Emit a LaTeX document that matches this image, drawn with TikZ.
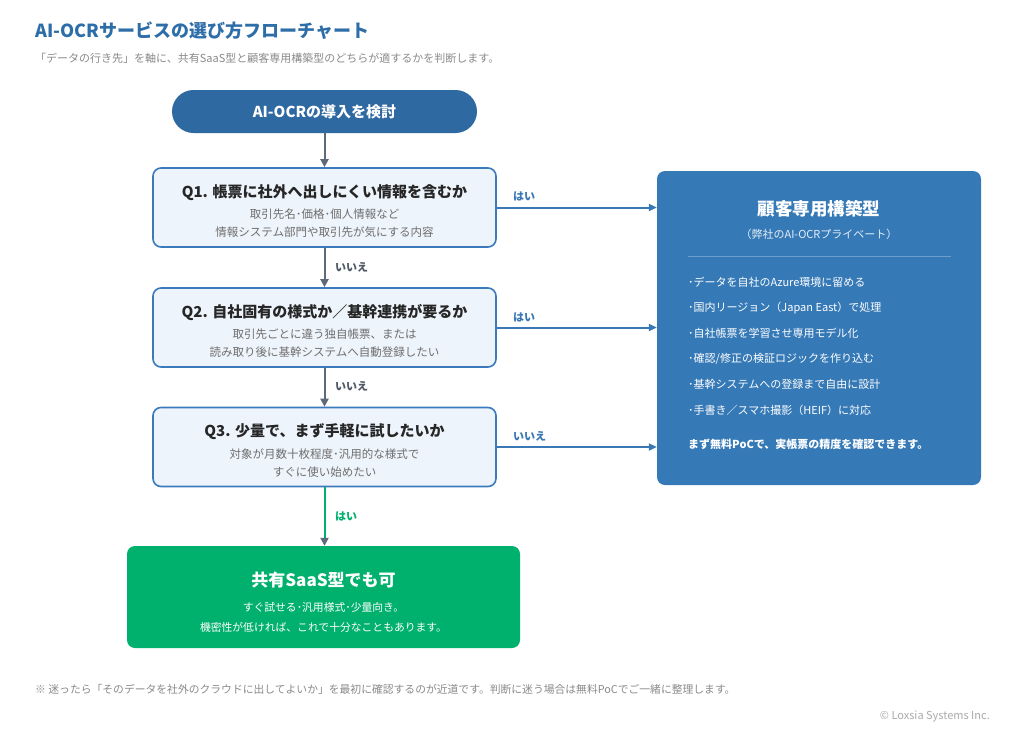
\documentclass[tikz,border=0pt]{standalone}
\usepackage{fontspec}
\setmainfont{Noto Sans CJK JP}
\usetikzlibrary{arrows.meta}
\definecolor{titleblue}{HTML}{2D6DA8}
\definecolor{startblue}{HTML}{2E69A1}
\definecolor{qborder}{HTML}{3A7ABD}
\definecolor{qfill}{HTML}{EEF4FB}
\definecolor{privblue}{HTML}{3579B7}
\definecolor{divider}{HTML}{6C9ED0}
\definecolor{saasgreen}{HTML}{00B06D}
\definecolor{arrowgray}{HTML}{5E6A78}
\definecolor{darktext}{HTML}{262626}
\definecolor{subgray}{HTML}{6E6E6E}
\definecolor{lightgray}{HTML}{8A8A8A}
\definecolor{copygray}{HTML}{AAAAAA}
\definecolor{nolabel}{HTML}{505A66}
\definecolor{yesblue}{HTML}{3A78B5}
\begin{document}
\begin{tikzpicture}[x=1pt,y=-1pt,
  fs/.style={font=\fontsize{#1}{#1}\selectfont},
  fsb/.style={font=\fontsize{#1}{#1}\selectfont\bfseries},
  qbox/.style={draw=qborder, line width=1.6pt, fill=qfill, rounded corners=8pt, minimum width=343pt, minimum height=79pt, inner sep=0pt},
  qtitle/.style={fsb=15, text=darktext, inner sep=0pt},
  qsub/.style={fs=11.5, text=subgray, inner sep=0pt},
  garrow/.style={draw=arrowgray, line width=2pt, -{Triangle[length=8pt,width=8pt]}},
  sarrow/.style={draw=saasgreen, line width=2pt, -{Triangle[length=8pt,width=8pt,color=arrowgray]}},
  barrow/.style={draw=yesblue, line width=2pt, -{Triangle[length=8pt,width=7pt]}},
  nolbl/.style={fsb=11, text=nolabel, anchor=west, inner sep=0pt},
  yeslbl/.style={fsb=11, text=yesblue, anchor=west, inner sep=0pt},
  bullet/.style={fs=11, text=white, anchor=west, inner sep=0pt}]
\useasboundingbox (0,0) rectangle (1024,734);
\fill[white] (0,0) rectangle (1024,734);

% title
\node[fsb=18, text=titleblue, anchor=west, inner sep=0pt] (title) at (35,31) {AI-OCRサービスの選び方フローチャート};
\node[fs=11, text=lightgray, anchor=west, inner sep=0pt] (subtitle) at (35,58) {「データの行き先」を軸に、共有SaaS型と顧客専用構築型のどちらが適するかを判断します。};

% start
\node[fill=startblue, rounded corners=21.5pt, minimum width=305pt, minimum height=43pt, inner sep=0pt, fsb=15, text=white] (start) at (324.5,111.5) {AI-OCRの導入を検討};

% Q1
\node[qbox] (q1) at (324.5,207.5) {};
\node[qtitle] (q1t) at (324.5,193) {Q1. 帳票に社外へ出しにくい情報を含むか};
\node[qsub] (q1s1) at (324.5,214) {取引先名･価格･個人情報など};
\node[qsub] (q1s2) at (324.5,232) {情報システム部門や取引先が気にする内容};

% Q2
\node[qbox] (q2) at (324.5,327.5) {};
\node[qtitle] (q2t) at (324.5,312) {Q2. 自社固有の様式か／基幹連携が要るか};
\node[qsub] (q2s1) at (324.5,334) {取引先ごとに違う独自帳票、または};
\node[qsub] (q2s2) at (324.5,352) {読み取り後に基幹システムへ自動登録したい};

% Q3
\node[qbox] (q3) at (324.5,447) {};
\node[qtitle] (q3t) at (324.5,432) {Q3. 少量で、まず手軽に試したいか};
\node[qsub] (q3s1) at (324.5,454) {対象が月数十枚程度･汎用的な様式で};
\node[qsub] (q3s2) at (324.5,472) {すぐに使い始めたい};

% SaaS
\node[fill=saasgreen, rounded corners=8pt, minimum width=393pt, minimum height=102pt, inner sep=0pt] (saas) at (323.5,597) {};
\node[fsb=17, text=white, inner sep=0pt] (saast) at (323.5,580) {共有SaaS型でも可};
\node[fs=10.8, text=white, inner sep=0pt] (saass1) at (323.5,607) {すぐ試せる･汎用様式･少量向き。};
\node[fs=10.8, text=white, inner sep=0pt] (saass2) at (323.5,627) {機密性が低ければ、これで十分なこともあります。};

% private
\node[fill=privblue, rounded corners=8pt, minimum width=324pt, minimum height=314pt, inner sep=0pt] (priv) at (819,328) {};
\node[fsb=17.5, text=white, inner sep=0pt] (privt) at (819,209) {顧客専用構築型};
\node[fs=11, text=white!88!privblue, inner sep=0pt] (privs) at (819,234) {（弊社のAI-OCRプライベート）};
\coordinate (dl) at (688,256);
\coordinate (dr) at (951,256);
\draw[divider, line width=1pt] (dl) -- (dr);
\node[bullet] (b1) at (688,282) {･データを自社のAzure環境に留める};
\node[bullet] (b2) at (688,308) {･国内リージョン（Japan East）で処理};
\node[bullet] (b3) at (688,333) {･自社帳票を学習させ専用モデル化};
\node[bullet] (b4) at (688,359) {･確認/修正の検証ロジックを作り込む};
\node[bullet] (b5) at (688,384) {･基幹システムへの登録まで自由に設計};
\node[bullet] (b6) at (688,410) {･手書き／スマホ撮影（HEIF）に対応};
\node[fsb=11, text=white, anchor=west, inner sep=0pt] (b7) at (688,444) {まず無料PoCで、実帳票の精度を確認できます。};

% vertical arrows
\draw[garrow] (start.south) -- (q1.north);
\draw[garrow] (q1.south) -- (q2.north);
\node[nolbl] (l1) at (335,267) {いいえ};
\draw[garrow] (q2.south) -- (q3.north);
\node[nolbl] (l2) at (335,386) {いいえ};
\coordinate (gtip) at (q3.south |- saas.north);
\draw[sarrow] (q3.south) -- (gtip);
\node[fsb=11, text=saasgreen, anchor=west, inner sep=0pt] (l3) at (335,516) {はい};

% horizontal arrows
\draw[barrow] (q1.east) -- (q1.east -| priv.west);
\node[yeslbl] (h1) at (513,196) {はい};
\draw[barrow] (q2.east) -- (q2.east -| priv.west);
\node[yeslbl] (h2) at (513,317) {はい};
\draw[barrow] (q3.east) -- (q3.east -| priv.west);
\node[yeslbl] (h3) at (513,436) {いいえ};

% footer
\node[fs=10.8, text=lightgray, anchor=west, inner sep=0pt] (foot) at (35,689) {※ 迷ったら「そのデータを社外のクラウドに出してよいか」を最初に確認するのが近道です。判断に迷う場合は無料PoCでご一緒に整理します。};
\node[fs=11, text=copygray, anchor=east, inner sep=0pt] (copy) at (990,717) {© Loxsia Systems Inc.};
\end{tikzpicture}
\end{document}
